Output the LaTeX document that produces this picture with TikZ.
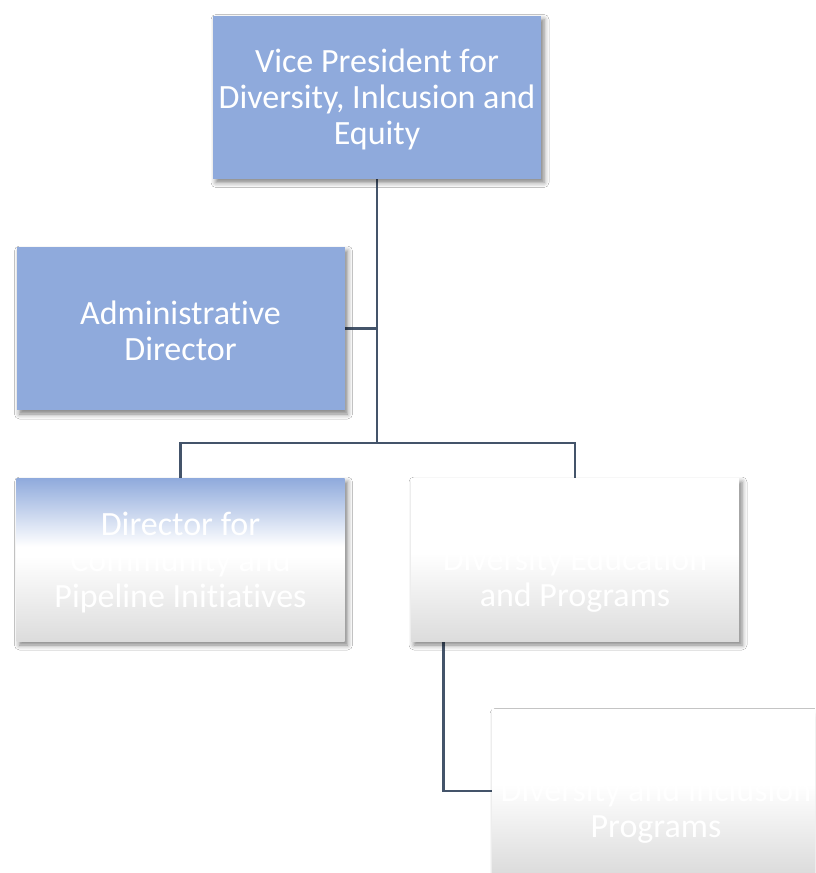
\documentclass[tikz,border=0pt]{standalone}
\usepackage{fontspec}
\setmainfont{Carlito}[Ligatures={NoCommon}]
\usetikzlibrary{shadows.blur}
\definecolor{boxblue}{HTML}{8FAADC}
\definecolor{linkcol}{HTML}{44546A}
\definecolor{edgegray}{HTML}{DCDCDC}
% vertical shadings (bottom -> top, fitted between 25bp and 75bp)
\pgfdeclareverticalshading{bluewhite}{100bp}{color(0bp)=(edgegray); color(25bp)=(edgegray); color(51bp)=(white); color(54bp)=(white); color(75bp)=(boxblue); color(100bp)=(boxblue)}
\pgfdeclareverticalshading{whitegray}{100bp}{color(0bp)=(edgegray); color(25bp)=(edgegray); color(52bp)=(white); color(75bp)=(white); color(100bp)=(white)}
\pgfdeclarelayer{background}
\pgfsetlayers{background,main}
\tikzset{
  orgbox/.style={rectangle, minimum width=328pt, minimum height=163pt,
    inner sep=0pt,
    blur shadow={shadow xshift=3pt, shadow yshift=-4pt, shadow blur radius=5pt, shadow opacity=50}},
  solidbox/.style={orgbox, fill=boxblue},
  fadebox/.style={orgbox, shading=bluewhite},
  paleboxes/.style={orgbox, shading=whitegray},
  boxtext/.style={inner sep=0pt, align=center, text=white,
    font=\fontsize{34}{36}\selectfont},
  link/.style={draw=linkcol, line width=2.8pt}
}
\begin{document}
\begin{tikzpicture}[x=1pt, y=-1pt]
  \useasboundingbox (0,0) rectangle (815,873);
  \clip (0,0) rectangle (815,873);

  % boxes
  \node[solidbox] (vp) at (377,97) {};
  \node[solidbox] (admin) at (180.5,328.5) {};
  \node[fadebox] (comm) at (180.5,559.5) {};
  \node[paleboxes] (dep) at (575,559.5) {};
  \node[paleboxes] (dip) at (656,791) {};

  % titles
  \node[boxtext] (vptext) at ([yshift=-2pt]vp.center) {Vice President for\\Diversity, Inlcusion and\\Equity};
  \node[boxtext] (admintext) at ([yshift=-2pt]admin.center) {Administrative\\Director};
  \node[boxtext] (commtext) at ([yshift=-3pt]comm.center) {Director for\\Community and\\Pipeline Initiatives};
  \node[boxtext] (deptext) at ([yshift=-3pt]dep.center) {\vphantom{D}\\Diversity Education\\and Programs};
  \node[boxtext] (diptext) at ([yshift=-3pt]dip.center) {\vphantom{D}\\Diversity and Inclusion\\Programs};

  \coordinate (split) at (377,443);
  \coordinate (drop) at ([xshift=33pt]dep.south west);

  % reporting lines
  \begin{pgfonlayer}{background}
    \fill[white] (0,0) rectangle (815,873);
    \draw[link] (vp.south) -- (split);
    \draw[link] (admin.east) -- (admin.east -| vp.south);
    \draw[link] (split) -| (comm.north);
    \draw[link] (split) -| (dep.north);
    \draw[link] (drop) |- (dip.west);
  \end{pgfonlayer}
\end{tikzpicture}
\end{document}
